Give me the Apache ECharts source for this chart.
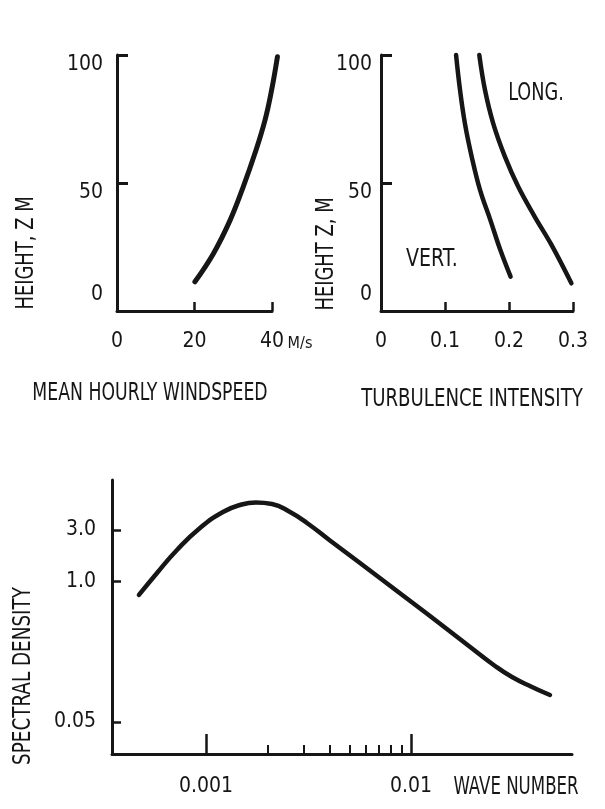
<!DOCTYPE html>
<html>
<head>
<meta charset="utf-8">
<script src="https://cdn.jsdelivr.net/npm/echarts@6/dist/echarts.min.js"></script>
<style>
  html, body { margin: 0; padding: 0; background: #ffffff; }
  #chart { width: 605px; height: 809px; }
</style>
</head>
<body>
<div id="chart"></div>
<script>
// ---- Panel 1: mean hourly windspeed profile (x: m/s, y: height m)
const windSpeed  = [20.1, 24.9, 29.2, 32.6, 35.6, 38.2, 39.9, 41.4];
const windHeight = [11.4, 22.5, 35.5, 48.6, 61.6, 74.6, 86.3, 99.3];

// ---- Panel 2: turbulence intensity profiles
const vertIntensity = [0.1173, 0.1235, 0.1313, 0.1417, 0.1547, 0.1709, 0.1865, 0.2025];
const vertHeight    = [100, 86.3, 73.0, 60.3, 47.3, 35.5, 23.8, 13.4];
const longIntensity = [0.1536, 0.1625, 0.1754, 0.1936, 0.2143, 0.2403, 0.2664, 0.2975];
const longHeight    = [100, 86.3, 73.2, 60.3, 48.6, 36.8, 25.8, 10.8];

// ---- Panel 3: spectral density vs wave number
const waveNumber = [0.000471, 0.000577, 0.000722, 0.000935, 0.00121, 0.001465, 0.001753,
                    0.002099, 0.00257, 0.00311, 0.004025, 0.00564, 0.008356, 0.01238,
                    0.01834, 0.0257, 0.0311, 0.03892, 0.04764];
const spectralDensity = [0.750, 1.198, 1.957, 3.128, 4.399, 5.108, 5.388,
                         5.219, 4.399, 3.480, 2.396, 1.483, 0.843, 0.479,
                         0.2696, 0.1651, 0.1305, 0.1055, 0.0889];

// tick labels
const heightTicks = [0, 50, 100];
const speedTicks = [0, 20, 40];
const intensityTicks = [0, 0.1, 0.2, 0.3];
const densityTicks = [0.05, 1.0, 3.0];
const waveMajorTicks = [0.001, 0.01];
const waveMinorTicks = [0.002, 0.003, 0.004, 0.005, 0.006, 0.007, 0.008, 0.009];

const INK = '#161616';
const FONT = "'DejaVu Sans Condensed', 'DejaVu Sans', sans-serif";

function zip(a, b) { return a.map((v, i) => [v, b[i]]); }

const lbl = (extra) => Object.assign({ color: INK, fontFamily: FONT, fontSize: 21 }, extra || {});
const shiftRich = {
  d: { color: INK, fontFamily: FONT, fontSize: 21, padding: [20, 0, 0, 0] },
  u: { color: INK, fontFamily: FONT, fontSize: 21, padding: [0, 0, 32, 0] }
};
const heightFmt = v => (v === 0 ? '{u|0}' : '{d|' + v + '}');

function title(text, x, y, sx, rot) {
  return { type: 'text', x: x, y: y, rotation: rot ? Math.PI / 2 : 0, scaleX: sx, scaleY: 1,
    style: { text: text, fill: INK, font: '24px ' + FONT, textAlign: 'center', textVerticalAlign: 'middle' } };
}

const lineSeries = (xi, yi, data, w, sm) => ({
  type: 'line', xAxisIndex: xi, yAxisIndex: yi, data: data, clip: false,
  smooth: sm, showSymbol: false, symbol: 'none',
  lineStyle: { color: INK, width: w, cap: 'round', join: 'round' }
});

const hiddenAxis = { axisLine: { show: false }, axisTick: { show: false }, axisLabel: { show: false }, splitLine: { show: false } };

const chart = echarts.init(document.getElementById('chart'), null, { renderer: 'canvas' });

const option = {
  backgroundColor: '#ffffff',
  animation: false,
  grid: [
    { left: 117, top: 55, width: 155, height: 256 },
    { left: 381, top: 55, width: 192, height: 256 },
    { left: 112, top: 480, width: 460, height: 274 },
    // same scale as grid 0, widened so the profile can run past the 40 m/s tick
    { left: 117, top: 55, width: 162.75, height: 256 }
  ],
  xAxis: [
    { gridIndex: 0, type: 'value', min: 0, max: 40,
      axisLine: { lineStyle: { color: INK, width: 3 } },
      axisTick: { inside: true, length: 9, lineStyle: { color: INK, width: 2.5 }, customValues: [20, 40] },
      axisLabel: lbl({ margin: 20, customValues: speedTicks }),
      splitLine: { show: false } },
    { gridIndex: 1, type: 'value', min: 0, max: 0.3,
      axisLine: { lineStyle: { color: INK, width: 3 } },
      axisTick: { inside: true, length: 9, lineStyle: { color: INK, width: 2.5 }, customValues: [0.1, 0.2, 0.3] },
      axisLabel: lbl({ margin: 20, customValues: intensityTicks, formatter: v => v === 0 ? '0' : v.toFixed(1) }),
      splitLine: { show: false } },
    { gridIndex: 2, type: 'log', logBase: 10, min: 0.000348, max: 0.061, position: 'bottom',
      axisLine: { lineStyle: { color: INK, width: 3 } },
      axisTick: { inside: true, length: 9, lineStyle: { color: INK, width: 2 }, customValues: waveMinorTicks },
      axisLabel: { show: false },
      minorTick: { show: false },
      splitLine: { show: false } },
    { gridIndex: 2, type: 'log', logBase: 10, min: 0.000348, max: 0.061, position: 'bottom', offset: 0,
      axisLine: { show: false },
      axisTick: { inside: true, length: 20, lineStyle: { color: INK, width: 2.5 }, customValues: waveMajorTicks },
      axisLabel: lbl({ margin: 22, customValues: waveMajorTicks, formatter: v => (v < 0.005 ? '0.001' : '0.01') }),
      minorTick: { show: false },
      splitLine: { show: false } },
    Object.assign({ gridIndex: 3, type: 'value', min: 0, max: 42 }, hiddenAxis)
  ],
  yAxis: [
    { gridIndex: 0, type: 'value', min: 0, max: 100,
      axisLine: { show: true, lineStyle: { color: INK, width: 3 } },
      axisTick: { show: true, inside: true, length: 11, lineStyle: { color: INK, width: 3 }, customValues: [50, 100] },
      axisLabel: lbl({ margin: 14, customValues: heightTicks, formatter: heightFmt, rich: shiftRich }),
      splitLine: { show: false } },
    { gridIndex: 1, type: 'value', min: 0, max: 100,
      axisLine: { show: true, lineStyle: { color: INK, width: 3 } },
      axisTick: { show: true, inside: true, length: 11, lineStyle: { color: INK, width: 3 }, customValues: [50, 100] },
      axisLabel: lbl({ margin: 9, customValues: heightTicks, formatter: heightFmt, rich: shiftRich }),
      splitLine: { show: false } },
    { gridIndex: 2, type: 'log', logBase: 10, min: 0.02527, max: 8.70,
      axisLine: { show: true, lineStyle: { color: INK, width: 3 } },
      axisTick: { show: true, inside: true, length: 9, lineStyle: { color: INK, width: 2.5 }, customValues: densityTicks },
      axisLabel: lbl({ margin: 16, customValues: densityTicks, formatter: v => (v < 0.5 ? '0.05' : v.toFixed(1)) }),
      minorTick: { show: false },
      splitLine: { show: false } },
    Object.assign({ gridIndex: 3, type: 'value', min: 0, max: 100 }, hiddenAxis)
  ],
  series: [
    lineSeries(4, 3, zip(windSpeed, windHeight), 5, 0.4),
    lineSeries(1, 1, zip(vertIntensity, vertHeight), 4.5, 0.4),
    lineSeries(1, 1, zip(longIntensity, longHeight), 4.5, 0.4),
    lineSeries(2, 2, zip(waveNumber, spectralDensity), 4.5, 0.5)
  ],
  graphic: [
    title('MEAN HOURLY WINDSPEED', 150, 394, 0.8, false),
    title('TURBULENCE INTENSITY', 472, 400, 0.84, false),
    title('LONG.', 536, 94, 0.82, false),
    title('VERT.', 432, 260, 0.88, false),
    title('HEIGHT, Z M', 27, 253, 0.83, true),
    title('HEIGHT Z, M', 327, 254, 0.83, true),
    title('SPECTRAL DENSITY', 24, 676, 0.85, true),
    title('WAVE NUMBER', 516, 788, 0.77, false),
    { type: 'text', x: 300, y: 344, style: { text: 'M/s', fill: INK, font: '16px ' + FONT, textAlign: 'center', textVerticalAlign: 'middle' } }
  ]
};
chart.setOption(option);
</script>
</body>
</html>
